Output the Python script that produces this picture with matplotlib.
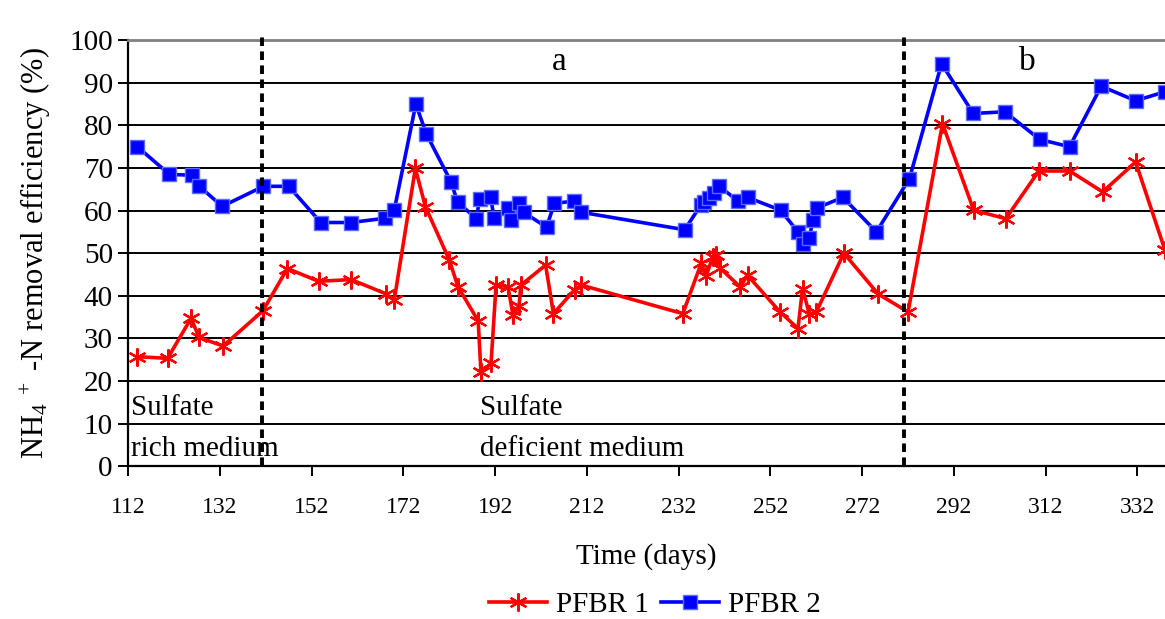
import numpy as np
import matplotlib
matplotlib.use("Agg")
import matplotlib.pyplot as plt

plt.rcParams['font.family'] = ['Liberation Serif', 'DejaVu Serif']
plt.rcParams['mathtext.fontset'] = 'custom'
plt.rcParams['mathtext.rm'] = 'Liberation Serif'
plt.rcParams['mathtext.it'] = 'Liberation Serif'
plt.rcParams['mathtext.default'] = 'regular'

# PFBR 1 (red)
days1 = [114, 120.6, 125.7, 127.5, 132.7, 141.4, 146.7, 153.5, 160.6, 168.1, 170,
         174.6, 176.8, 182, 183.9, 188.3, 188.9, 191.1, 192.2, 194.8, 195.9, 197.2,
         197.6, 203, 204.7, 209.3, 210.8, 232.9, 236.9, 238, 239.4, 240.2, 240.9,
         245.4, 247, 254.1, 258, 259, 260.5, 262, 268, 275.5, 282, 289.5, 296.3,
         303.3, 310.5, 317.2, 324.4, 331.6, 338]
pfbr1 = [25.7, 25.3, 34.7, 30.2, 28.2, 36.5, 46.4, 43.4, 43.8, 40.5, 39.0,
         69.9, 60.9, 48.4, 42.1, 34.1, 22.0, 24.1, 42.6, 42.1, 35.4, 37.6,
         42.5, 47.2, 35.8, 41.4, 42.5, 35.8, 47.6, 44.7, 49.1, 49.5, 46.6,
         42.1, 44.8, 36.2, 32.3, 41.7, 35.6, 36.2, 50.0, 40.4, 36.2, 80.4, 60.1,
         58.1, 69.3, 69.3, 64.4, 71.4, 50.7]

# PFBR 2 (blue)
days2 = [114, 121, 126, 127.5, 132.5, 141.5, 147, 154, 160.6, 168, 170,
         174.7, 177, 182.4, 183.8, 187.9, 188.6, 191, 191.8, 194.7, 195.5, 197.1,
         198.2, 203.2, 204.9, 209.1, 210.8, 233.3, 236.9, 237.5, 238.5, 239.6, 240.7,
         245, 247, 254.2, 258, 259, 260.5, 261.2, 262.1, 267.8, 275.1, 282.3, 289.3,
         296.2, 303.1, 310.7, 317.2, 324.1, 331.6, 338]
pfbr2 = [75, 68.5, 68.3, 65.7, 61, 65.7, 65.7, 57.2, 57.2, 58.2, 60.1,
         85, 78, 66.7, 62, 58.1, 62.7, 63.1, 58.2, 60.6, 57.7, 61.7,
         59.6, 56.1, 61.7, 62.2, 59.6, 55.5, 61.4, 62.0, 63.0, 64.1, 65.8,
         62.2, 63.1, 60.1, 55, 52.1, 53.5, 57.7, 60.6, 63.1, 55, 67.5, 94.5,
         82.8, 83.2, 76.7, 75, 89.2, 85.8, 87.9]

xticks = list(range(112, 333, 20))
yticks = list(range(0, 101, 10))
phase_days = [141.2, 281.2]

fig = plt.figure(figsize=(11.65, 6.19), dpi=100)
ax = fig.add_axes([0.110, 0.247, 0.890, 0.688])

ax.set_xlim(112, 338)
ax.set_ylim(0, 100)
ax.set_yticks(yticks)
ax.set_xticks(xticks)
ax.yaxis.grid(True, color='black', linewidth=1.4)
ax.set_axisbelow(True)

ax.plot(days1, pfbr1, color='#ff0000', linewidth=2.6, marker=(6, 2, 0),
        markersize=13, markeredgewidth=1.6, markeredgecolor='#ff0000',
        label='PFBR 1', zorder=3)
ax.plot(days2, pfbr2, color='#0000ff', linewidth=2.6, marker='s',
        markersize=10, markerfacecolor='#0000ff', markeredgecolor='#5a6bff',
        markeredgewidth=1.0, label='PFBR 2', zorder=4)

for d in phase_days:
    ax.axvline(d, ymin=0, ymax=1.015, color='black', linewidth=2.8,
               linestyle=(0, (2.2, 1.4)), clip_on=False, zorder=5)

ax.spines['right'].set_visible(False)
ax.spines['top'].set_color('#808080')
ax.spines['top'].set_linewidth(2)
ax.spines['left'].set_linewidth(1.6)
ax.spines['bottom'].set_linewidth(1.6)
ax.tick_params(axis='y', direction='out', length=7, width=1.4, labelsize=21, pad=4)
ax.tick_params(axis='x', direction='out', length=7, width=1.4, labelsize=17, pad=15)

ax.text(206, 95, 'a', fontsize=24, ha='center', va='center')
ax.text(308, 95, 'b', fontsize=24, ha='center', va='center')
ax.text(112.6, 13.6, 'Sulfate', fontsize=21, ha='left', va='center')
ax.text(112.6, 3.9, 'rich medium', fontsize=21, ha='left', va='center')
ax.text(188.7, 13.6, 'Sulfate', fontsize=21, ha='left', va='center')
ax.text(188.7, 3.9, 'deficient medium', fontsize=21, ha='left', va='center')

ax.set_xlabel('Time (days)', fontsize=21, labelpad=18)
ax.set_ylabel(r'NH$_4$$^{\ +}$ -N removal efficiency (%)', fontsize=22, labelpad=12)

leg = ax.legend(loc='center', bbox_to_anchor=(0.508, -0.326), ncol=2,
                frameon=False, fontsize=21, handlelength=2.0, handletextpad=0.3,
                columnspacing=0.4)

fig.savefig('out.png', dpi=100)
